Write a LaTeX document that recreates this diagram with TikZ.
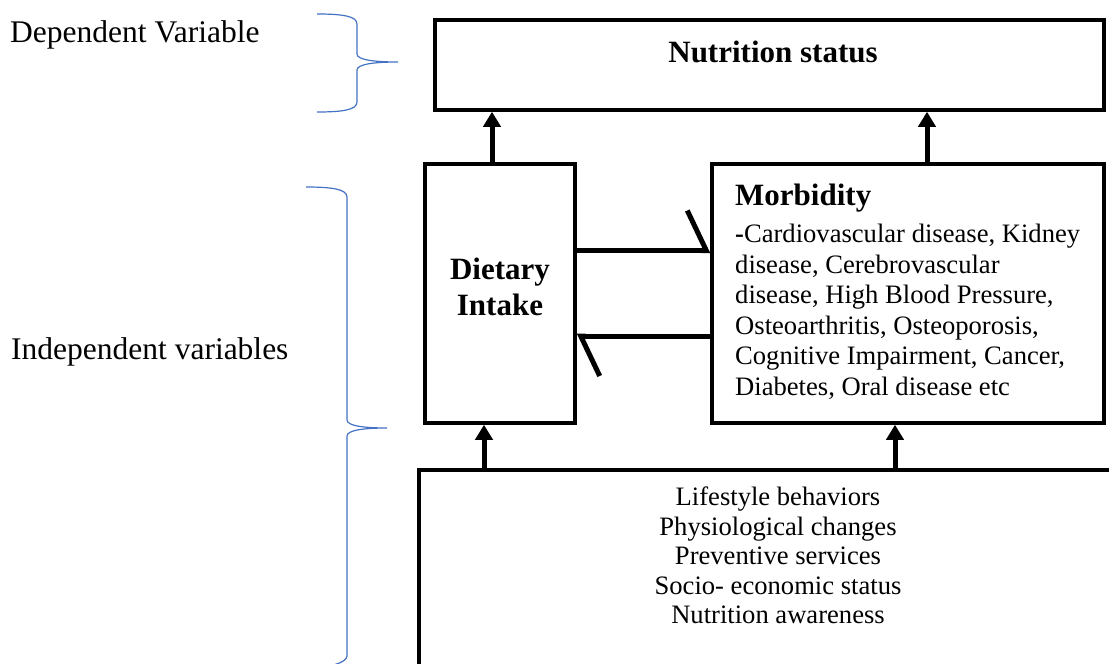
\documentclass[tikz,border=0pt]{standalone}
\usepackage{fontspec}
\setmainfont{Liberation Serif}
\usetikzlibrary{positioning, arrows.meta}
\definecolor{bracecol}{HTML}{4472C4}

\begin{document}
\begin{tikzpicture}
    [
      x=1pt, y=1pt,
      box/.style = {draw, line width=3.5pt, inner sep=0pt},
      head/.style = {font=\bfseries\fontsize{31}{36}\selectfont, inner sep=0pt},
      side/.style = {font=\fontsize{31.5}{36}\selectfont, inner sep=0pt, anchor=base west},
      body/.style = {font=\fontsize{26.6}{30.5}\selectfont, inner sep=0pt},
      flow/.style = {line width=5pt, -{Triangle[length=15pt, width=17pt]}},
      half/.style = {line width=5pt, -{Straight Barb[harpoon, length=19pt, width=80pt]}},
      brace/.style = {draw=bracecol, line width=1.2pt}
    ]

    \clip (0,0) rectangle (1109,-664);

    % side labels and braces
    \node[side] (deplbl) at (10,-42) {Dependent Variable};
    \node[side] (indlbl) at (11,-359) {Independent variables};

    \path[brace] (317,-14) .. controls (342,-14) and (357,-16) .. (357,-24)
      -- (357,-54) .. controls (357,-60) and (375,-62) .. (398,-62)
      .. controls (375,-62) and (357,-64) .. (357,-70)
      -- (357,-102) .. controls (357,-110) and (342,-112) .. (317,-112);
    \path[brace] (306,-187) .. controls (331,-187) and (347,-189) .. (347,-197)
      -- (347,-420) .. controls (347,-426) and (365,-428) .. (387,-428)
      .. controls (365,-428) and (347,-430) .. (347,-436)
      -- (347,-656) .. controls (347,-662) and (331,-668) .. (306,-668);

    % boxes
    \node[box, minimum width=669pt, minimum height=90pt] (status) at (769.5,-65) {};
    \node[head, anchor=base] (statustxt) at (773,-62) {Nutrition status};

    \node[box, minimum width=150pt, minimum height=259pt] (diet) at (500,-293.5) {};
    \node[head, align=center, anchor=north] (diettxt) at (500,-258) {Dietary\\Intake};

    \node[box, minimum width=392pt, minimum height=259pt] (morb) at (908,-293.5) {};
    \node[head, anchor=base west] (morbtxt) at (735,-205) {Morbidity};
    \node[body, align=left, anchor=north west] (morblist) at (735,-224)
      {\textbf{-}Cardiovascular disease, Kidney\\
       disease, Cerebrovascular\\
       disease, High Blood Pressure,\\
       Osteoarthritis, Osteoporosis,\\
       Cognitive Impairment, Cancer,\\
       Diabetes, Oral disease etc};

    \node[box, anchor=north west, minimum width=720pt, minimum height=230pt] (factors) at (417,-468) {};
    \node[body, font=\fontsize{26.6}{29.5}\selectfont, align=center, anchor=north] (factorstxt) at (778,-487)
      {Lifestyle behaviors\\
       Physiological changes\\
       Preventive services\\
       Socio- economic status\\
       Nutrition awareness};

    % connectors
    \draw[flow] ([xshift=-8pt]diet.north) -- ([xshift=-8pt]diet.north |- status.south);
    \draw[flow] ([xshift=19pt]morb.north) -- ([xshift=19pt]morb.north |- status.south);
    \draw[flow] ([xshift=-16pt]diet.south |- factors.north) -- ([xshift=-16pt]diet.south);
    \draw[flow] ([xshift=-13pt]morb.south |- factors.north) -- ([xshift=-13pt]morb.south);

    \draw[half] ([yshift=43pt]diet.east) -- ([yshift=43pt]morb.west);
    \draw[half] ([yshift=-42.5pt]morb.west) -- ([yshift=-42.5pt]diet.east);
  \end{tikzpicture}
\end{document}
